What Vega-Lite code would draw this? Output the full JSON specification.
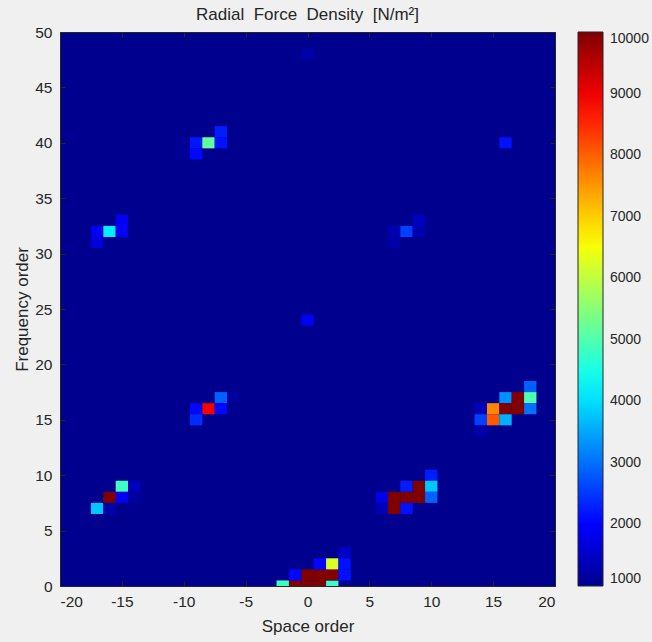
{
  "$schema": "https://vega.github.io/schema/vega-lite/v6.json",
  "autosize": {"type": "none"},
  "width": 495,
  "height": 554,
  "padding": {"left": 60, "top": 32, "right": 97, "bottom": 56},
  "background": "#f0f0f0",
  "title": {
    "text": "Radial\u00a0 Force\u00a0 Density\u00a0 [N/m²]",
    "fontSize": 17,
    "fontWeight": "normal",
    "color": "#262626",
    "offset": 1
  },
  "config": {
    "font": "Liberation Sans",
    "view": {"fill": "#00008f", "stroke": "#262626", "strokeWidth": 1}
  },
  "data": {
    "values": [
      {"space": -2, "freq": 0, "force": 4850},
      {"space": -1, "freq": 0, "force": 10000},
      {"space": 0, "freq": 0, "force": 10000},
      {"space": 1, "freq": 0, "force": 10000},
      {"space": 2, "freq": 0, "force": 4800},
      {"space": -1, "freq": 1, "force": 2050},
      {"space": 0, "freq": 1, "force": 10000},
      {"space": 1, "freq": 1, "force": 10000},
      {"space": 2, "freq": 1, "force": 10000},
      {"space": 3, "freq": 1, "force": 2150},
      {"space": 1, "freq": 2, "force": 2050},
      {"space": 2, "freq": 2, "force": 6230},
      {"space": 3, "freq": 2, "force": 2150},
      {"space": 3, "freq": 3, "force": 1500},
      {"space": 10, "freq": 10, "force": 2250},
      {"space": 8, "freq": 9, "force": 2250},
      {"space": 9, "freq": 9, "force": 10000},
      {"space": 10, "freq": 9, "force": 3780},
      {"space": 6, "freq": 8, "force": 1750},
      {"space": 7, "freq": 8, "force": 10000},
      {"space": 8, "freq": 8, "force": 10000},
      {"space": 9, "freq": 8, "force": 10000},
      {"space": 10, "freq": 8, "force": 2870},
      {"space": 6, "freq": 7, "force": 1350},
      {"space": 7, "freq": 7, "force": 10000},
      {"space": 8, "freq": 7, "force": 2150},
      {"space": 18, "freq": 18, "force": 2870},
      {"space": 16, "freq": 17, "force": 3280},
      {"space": 17, "freq": 17, "force": 10000},
      {"space": 18, "freq": 17, "force": 4990},
      {"space": 14, "freq": 16, "force": 1400},
      {"space": 15, "freq": 16, "force": 7650},
      {"space": 16, "freq": 16, "force": 10000},
      {"space": 17, "freq": 16, "force": 10000},
      {"space": 18, "freq": 16, "force": 3000},
      {"space": 14, "freq": 15, "force": 2570},
      {"space": 15, "freq": 15, "force": 8060},
      {"space": 16, "freq": 15, "force": 3580},
      {"space": 14, "freq": 14, "force": 1250},
      {"space": -15, "freq": 9, "force": 4850},
      {"space": -14, "freq": 9, "force": 1430},
      {"space": -16, "freq": 8, "force": 10000},
      {"space": -15, "freq": 8, "force": 1860},
      {"space": -14, "freq": 8, "force": 1150},
      {"space": -17, "freq": 7, "force": 3780},
      {"space": -16, "freq": 7, "force": 1220},
      {"space": -7, "freq": 17, "force": 2870},
      {"space": -6, "freq": 17, "force": 1100},
      {"space": -9, "freq": 16, "force": 2050},
      {"space": -8, "freq": 16, "force": 8900},
      {"space": -7, "freq": 16, "force": 2050},
      {"space": -9, "freq": 15, "force": 2400},
      {"space": -7, "freq": 41, "force": 2250},
      {"space": -10, "freq": 40, "force": 1080},
      {"space": -9, "freq": 40, "force": 2200},
      {"space": -8, "freq": 40, "force": 5150},
      {"space": -7, "freq": 40, "force": 2150},
      {"space": -10, "freq": 39, "force": 1080},
      {"space": -9, "freq": 39, "force": 2050},
      {"space": -15, "freq": 33, "force": 1900},
      {"space": -17, "freq": 32, "force": 1900},
      {"space": -16, "freq": 32, "force": 4130},
      {"space": -15, "freq": 32, "force": 1950},
      {"space": -17, "freq": 31, "force": 1710},
      {"space": 9, "freq": 33, "force": 1430},
      {"space": 7, "freq": 32, "force": 1290},
      {"space": 8, "freq": 32, "force": 2570},
      {"space": 9, "freq": 32, "force": 1290},
      {"space": 7, "freq": 31, "force": 1220},
      {"space": 0, "freq": 24, "force": 1900},
      {"space": 0, "freq": 48, "force": 1250},
      {"space": 16, "freq": 40, "force": 2150}
    ]
  },
  "layer": [
    {
      "mark": {"type": "rect", "width": 12.375, "height": 11.08, "clip": true},
      "encoding": {
        "x": {
          "field": "space",
          "type": "quantitative",
          "scale": {"domain": [-20, 20], "nice": false, "zero": false},
          "axis": {
            "values": [-20, -15, -10, -5, 0, 5, 10, 15, 20],
            "labelExpr": "'' + datum.value",
            "title": "Space order",
            "grid": false,
            "domain": false,
            "tickSize": -5,
            "tickColor": "#262626",
            "labelFontSize": 15.5,
            "labelColor": "#262626",
            "labelPadding": 13,
            "titleFontSize": 17,
            "titleFontWeight": "normal",
            "titleColor": "#262626",
            "titlePadding": 9
          }
        },
        "y": {
          "field": "freq",
          "type": "quantitative",
          "scale": {"domain": [0, 50], "nice": false, "zero": false},
          "axis": {
            "values": [0, 5, 10, 15, 20, 25, 30, 35, 40, 45, 50],
            "title": "Frequency order",
            "grid": false,
            "domain": false,
            "tickSize": -5,
            "tickColor": "#262626",
            "labelFontSize": 15.5,
            "labelColor": "#262626",
            "labelPadding": 13,
            "titleFontSize": 17,
            "titleFontWeight": "normal",
            "titleColor": "#262626",
            "titlePadding": 3
          }
        },
        "color": {
          "field": "force",
          "type": "quantitative",
          "scale": {
            "type": "linear",
            "domain": [1000, 2000, 4286, 6571, 8857, 10000],
            "range": ["#00008f", "#0000ff", "#00ffff", "#ffff00", "#ff0000", "#800000"],
            "interpolate": "rgb",
            "clamp": true
          },
          "legend": {
            "orient": "none",
            "legendX": 518,
            "legendY": 0,
            "direction": "vertical",
            "title": null,
            "padding": 0,
            "gradientLength": 554,
            "gradientThickness": 25,
            "gradientStrokeColor": "#262626",
            "gradientStrokeWidth": 1,
            "values": [1000, 2000, 3000, 4000, 5000, 6000, 7000, 8000, 9000, 10000],
            "format": "d",
            "labelFontSize": 14,
            "labelColor": "#262626",
            "labelOffset": 7,
            "labelBaseline": "middle",
            "labelOverlap": false
          }
        }
      }
    },
    {
      "mark": {"type": "point", "opacity": 0},
      "encoding": {
        "x": {
          "field": "space",
          "type": "quantitative",
          "axis": {
            "orient": "top",
            "values": [-20, -15, -10, -5, 0, 5, 10, 15, 20],
            "labels": false,
            "title": null,
            "grid": false,
            "domain": false,
            "tickSize": -5,
            "tickColor": "#262626"
          }
        },
        "y": {
          "field": "freq",
          "type": "quantitative",
          "axis": {
            "orient": "right",
            "values": [0, 5, 10, 15, 20, 25, 30, 35, 40, 45, 50],
            "labels": false,
            "title": null,
            "grid": false,
            "domain": false,
            "tickSize": -5,
            "tickColor": "#262626"
          }
        }
      }
    }
  ],
  "resolve": {"axis": {"x": "independent", "y": "independent"}}
}
